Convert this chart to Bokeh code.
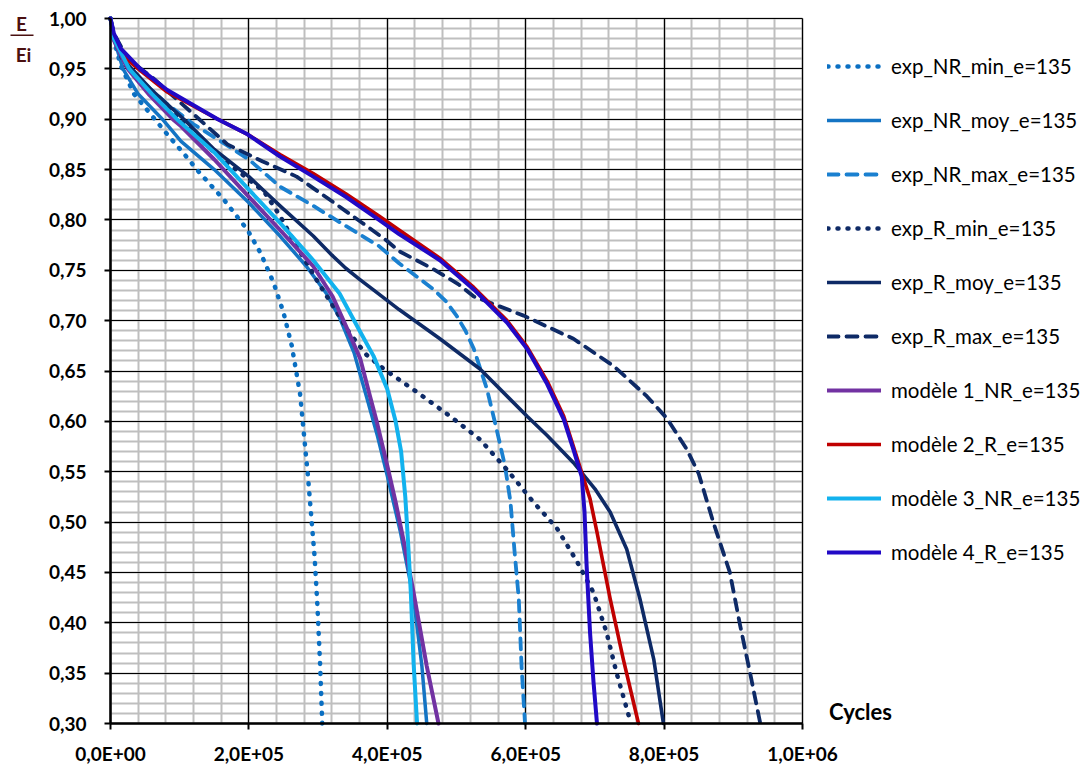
from bokeh.plotting import figure
from bokeh.models import (Legend, LegendItem, FixedTicker, Label, Range1d, BoxAnnotation, Grid)
from bokeh.embed import file_html
from bokeh.resources import INLINE

# ---------------- data (cycles in thousands, E/Ei) ----------------
nr_min_k = [0, 5, 15, 34, 58, 82, 107, 126, 164, 198, 217, 236, 250, 262, 274, 285, 295, 299, 303, 306]
nr_min_v = [1.000, 0.978, 0.953, 0.925, 0.905, 0.885, 0.865, 0.849, 0.820, 0.790, 0.767, 0.737, 0.708, 0.675, 0.627, 0.548, 0.465, 0.417, 0.357, 0.300]

nr_moy_k = [0, 5, 18, 40, 75, 102, 150, 200, 245, 283, 312, 331, 352, 371, 386, 400, 419, 438, 450, 457]
nr_moy_v = [1.000, 0.980, 0.950, 0.925, 0.900, 0.878, 0.850, 0.817, 0.784, 0.754, 0.727, 0.703, 0.668, 0.622, 0.585, 0.546, 0.490, 0.424, 0.357, 0.300]

nr_max_k = [0, 5, 20, 50, 82, 120, 164, 200, 245, 293, 340, 388, 417, 467, 485, 500, 513, 525, 544, 558, 570, 578, 584, 590, 594, 599]
nr_max_v = [1.000, 0.982, 0.958, 0.935, 0.915, 0.895, 0.876, 0.860, 0.833, 0.814, 0.794, 0.774, 0.757, 0.731, 0.719, 0.705, 0.690, 0.672, 0.632, 0.592, 0.556, 0.520, 0.470, 0.424, 0.357, 0.300]

r_min_k = [0, 5, 20, 58, 102, 150, 200, 222, 245, 269, 300, 331, 345, 370, 395, 443, 491, 534, 573, 611, 645, 674, 698, 717, 731, 748, 752]
r_min_v = [1.000, 0.980, 0.955, 0.928, 0.898, 0.867, 0.840, 0.828, 0.804, 0.774, 0.738, 0.704, 0.688, 0.666, 0.652, 0.629, 0.605, 0.582, 0.552, 0.520, 0.494, 0.461, 0.430, 0.390, 0.351, 0.310, 0.300]

r_moy_k = [0, 5, 20, 58, 106, 150, 200, 245, 293, 320, 340, 360, 379, 417, 476, 534, 602, 631, 669, 700, 722, 746, 765, 785, 799]
r_moy_v = [1.000, 0.982, 0.958, 0.930, 0.900, 0.870, 0.843, 0.814, 0.784, 0.765, 0.752, 0.741, 0.731, 0.711, 0.682, 0.652, 0.605, 0.586, 0.559, 0.533, 0.510, 0.473, 0.424, 0.364, 0.300]

r_max_k = [0, 5, 25, 63, 82, 120, 169, 220, 269, 317, 364, 398, 417, 467, 503, 525, 597, 669, 727, 775, 804, 833, 850, 871, 895, 910, 924, 939]
r_max_v = [1.000, 0.985, 0.960, 0.940, 0.928, 0.905, 0.875, 0.858, 0.843, 0.820, 0.797, 0.780, 0.769, 0.751, 0.736, 0.724, 0.705, 0.682, 0.655, 0.625, 0.603, 0.572, 0.548, 0.500, 0.450, 0.397, 0.351, 0.300]

m1_k = [0, 5, 25, 55, 90, 102, 150, 200, 245, 293, 321, 340, 361, 375, 385, 400, 412, 424, 438, 457, 474]
m1_v = [1.000, 0.978, 0.950, 0.925, 0.900, 0.893, 0.860, 0.823, 0.790, 0.754, 0.724, 0.695, 0.662, 0.625, 0.599, 0.556, 0.520, 0.480, 0.430, 0.357, 0.300]

m2_k = [0, 5, 20, 40, 82, 155, 198, 245, 293, 340, 388, 417, 476, 525, 573, 602, 631, 655, 669, 681, 693, 703, 722, 741, 763]
m2_v = [1.000, 0.982, 0.962, 0.950, 0.927, 0.900, 0.885, 0.865, 0.846, 0.826, 0.804, 0.790, 0.762, 0.733, 0.700, 0.674, 0.640, 0.605, 0.575, 0.549, 0.523, 0.490, 0.424, 0.364, 0.300]

m3_k = [0, 5, 27, 60, 96, 150, 200, 245, 293, 331, 360, 380, 400, 412, 420, 426, 430, 434, 438, 443]
m3_v = [1.000, 0.980, 0.950, 0.925, 0.900, 0.867, 0.830, 0.797, 0.760, 0.727, 0.690, 0.665, 0.632, 0.600, 0.570, 0.525, 0.480, 0.430, 0.360, 0.300]

m4_k = [0, 5, 15, 43, 82, 155, 198, 245, 293, 340, 388, 417, 476, 525, 573, 602, 631, 655, 669, 681, 685, 688, 693, 698, 703]
m4_v = [1.000, 0.985, 0.970, 0.950, 0.929, 0.900, 0.885, 0.863, 0.843, 0.823, 0.800, 0.786, 0.760, 0.731, 0.698, 0.672, 0.637, 0.602, 0.572, 0.545, 0.510, 0.457, 0.390, 0.341, 0.300]

series_names = ["exp_NR_min_e=135", "exp_NR_moy_e=135", "exp_NR_max_e=135",
                "exp_R_min_e=135", "exp_R_moy_e=135", "exp_R_max_e=135",
                "modèle 1_NR_e=135", "modèle 2_R_e=135", "modèle 3_NR_e=135", "modèle 4_R_e=135"]

x_tick_values = [0, 200000, 400000, 600000, 800000, 1000000]
x_tick_labels = ["0,0E+00", "2,0E+05", "4,0E+05", "6,0E+05", "8,0E+05", "1,0E+06"]
y_tick_values = [0.30, 0.35, 0.40, 0.45, 0.50, 0.55, 0.60, 0.65, 0.70, 0.75, 0.80, 0.85, 0.90, 0.95, 1.00]
y_tick_labels = ["0,30", "0,35", "0,40", "0,45", "0,50", "0,55", "0,60", "0,65", "0,70", "0,75",
                 "0,80", "0,85", "0,90", "0,95", "1,00"]

X_MIN, X_MAX = 0, 1000000
Y_MIN, Y_MAX = 0.30, 1.00

# ---------------- layout (pixels) ----------------
W, H = 1080, 765
PX0, PX1 = 110, 802      # pixel columns of x = X_MIN, X_MAX
PY0, PY1 = 18, 723       # pixel rows of y = Y_MAX, Y_MIN
sx = (X_MAX - X_MIN) / (PX1 - PX0)
sy = (Y_MAX - Y_MIN) / (PY1 - PY0)
x_range = Range1d(X_MIN - PX0 * sx, X_MAX + (W - PX1) * sx)
y_range = Range1d(Y_MIN - (H - PY1) * sy, Y_MAX + PY0 * sy)

# ---------------- styles ----------------
C_NR = "#0A6FC2"
C_R = "#0E2A66"
styles = [
    dict(color=C_NR, line_width=4.5, line_dash="1 9"),
    dict(color="#1474C4", line_width=3.5, line_dash="solid"),
    dict(color="#1A80D0", line_width=3.8, line_dash="11 8"),
    dict(color=C_R, line_width=4.5, line_dash="1 9"),
    dict(color=C_R, line_width=3.6, line_dash="solid"),
    dict(color=C_R, line_width=3.8, line_dash="11 8"),
    dict(color="#7232A2", line_width=4, line_dash="solid"),
    dict(color="#C00000", line_width=3.6, line_dash="solid"),
    dict(color="#12B2EE", line_width=4, line_dash="solid"),
    dict(color="#2109C6", line_width=4, line_dash="solid"),
]

FONT = "Lato"

p = figure(width=W, height=H, x_range=x_range, y_range=y_range,
           output_backend="svg", toolbar_location=None,
           min_border_left=0, min_border_right=0, min_border_top=0, min_border_bottom=0,
           background_fill_color="white", border_fill_color="white")
p.outline_line_color = None

# ticks
x_minor = [i * 40000 for i in range(0, 26)]
y_minor = [round(0.30 + i * 0.01, 2) for i in range(0, 71)]
xticker = FixedTicker(ticks=x_tick_values, minor_ticks=x_minor)
yticker = FixedTicker(ticks=y_tick_values, minor_ticks=y_minor)
p.xaxis.ticker = xticker
p.yaxis.ticker = yticker
p.xaxis.major_label_overrides = {v: l for v, l in zip(x_tick_values, x_tick_labels)}
p.yaxis.major_label_overrides = {v: l for v, l in zip(y_tick_values, y_tick_labels)}
p.xaxis.fixed_location = Y_MIN
p.yaxis.fixed_location = X_MIN
p.xaxis.bounds = (X_MIN, X_MAX)
p.yaxis.bounds = (Y_MIN, Y_MAX)

for ax in (p.xaxis, p.yaxis):
    ax.axis_line_color = "black"
    ax.axis_line_width = 2.5
    ax.major_tick_line_color = "black"
    ax.major_tick_line_width = 2
    ax.major_tick_out = 6
    ax.major_tick_in = 0
    ax.minor_tick_line_color = None
    ax.major_label_text_font = FONT
    ax.major_label_text_font_style = "bold"
    ax.major_label_text_font_size = "19px"
    ax.major_label_text_color = "black"
p.xaxis.major_label_standoff = 12
p.yaxis.major_label_standoff = 18

# grids: minor (grey) first, major (black) on top
p.xgrid.grid_line_color = None
p.ygrid.grid_line_color = None
p.xgrid.minor_grid_line_color = "#BFBFBF"
p.ygrid.minor_grid_line_color = "#BFBFBF"
p.xgrid.minor_grid_line_width = 2
p.ygrid.minor_grid_line_width = 2
p.xgrid.bounds = (X_MIN, X_MAX)
p.ygrid.bounds = (Y_MIN, Y_MAX)
p.xgrid.cross_bounds = (Y_MIN, Y_MAX)
p.ygrid.cross_bounds = (X_MIN, X_MAX)
gx = Grid(dimension=0, ticker=xticker, bounds=(X_MIN, X_MAX), cross_bounds=(Y_MIN, Y_MAX),
          grid_line_color="black", grid_line_width=1.2)
gy = Grid(dimension=1, ticker=yticker, bounds=(Y_MIN, Y_MAX), cross_bounds=(X_MIN, X_MAX),
          grid_line_color="black", grid_line_width=1.2)
p.add_layout(gx)
p.add_layout(gy)

# series
all_k = [nr_min_k, nr_moy_k, nr_max_k, r_min_k, r_moy_k, r_max_k, m1_k, m2_k, m3_k, m4_k]
all_v = [nr_min_v, nr_moy_v, nr_max_v, r_min_v, r_moy_v, r_max_v, m1_v, m2_v, m3_v, m4_v]
items = []
for name, ks, vs, st in zip(series_names, all_k, all_v, styles):
    xs = [k * 1000 for k in ks]
    r = p.line(xs, vs, line_color=st["color"], line_width=st["line_width"],
               line_dash=st["line_dash"], line_cap="round", line_join="round")
    items.append(LegendItem(label=name, renderers=[r]))

legend = Legend(items=items, location=(827, H - 564),
                label_text_font=FONT, label_text_font_size="20.5px", label_text_color="black",
                glyph_width=54, glyph_height=24, label_height=24, spacing=30,
                padding=0, margin=0, label_standoff=10,
                border_line_alpha=0, background_fill_alpha=0)
p.add_layout(legend)

# axis titles (screen units measured from the frame's bottom-left)
lab_color = "#4A1010"
p.add_layout(Label(x=21, y=H - 23, x_units="screen", y_units="screen", text="E",
                   text_align="center", text_baseline="middle", text_font=FONT,
                   text_font_style="bold", text_font_size="19px", text_color=lab_color))
p.add_layout(Label(x=23, y=H - 53.5, x_units="screen", y_units="screen", text="Ei",
                   text_align="center", text_baseline="middle", text_font=FONT,
                   text_font_style="bold", text_font_size="19px", text_color=lab_color))
p.add_layout(BoxAnnotation(left=10, right=33, bottom=H - 35.5, top=H - 34,
                           left_units="screen", right_units="screen",
                           top_units="screen", bottom_units="screen",
                           fill_color=lab_color, fill_alpha=1, line_color=None))
p.add_layout(Label(x=860, y=H - 711, x_units="screen", y_units="screen", text="Cycles",
                   text_align="center", text_baseline="middle", text_font=FONT,
                   text_font_style="bold", text_font_size="22px", text_color="black"))

open("out.html", "w").write(file_html(p, INLINE))
